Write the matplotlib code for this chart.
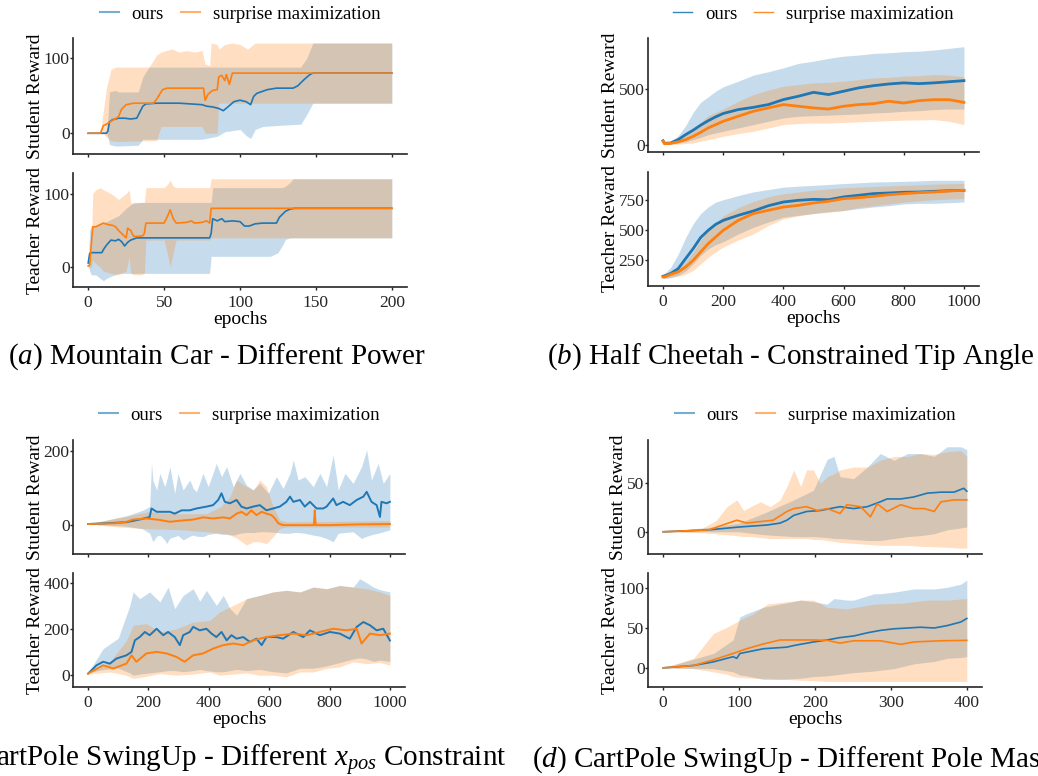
import matplotlib
matplotlib.use('Agg')
import matplotlib.pyplot as plt
from matplotlib.lines import Line2D

FIG_W, FIG_H = 1038, 776
BLUE = '#1f77b4'
ORANGE = '#ff7f0e'
SERIF = 'Liberation Serif'

plt.rcParams['font.family'] = [SERIF, 'DejaVu Serif']
plt.rcParams['mathtext.fontset'] = 'custom'
plt.rcParams['mathtext.rm'] = SERIF
plt.rcParams['mathtext.it'] = SERIF + ':italic'

LABELS = ['ours', 'surprise maximization']

# ---------------- (a) Mountain Car - Different Power ----------------
# student reward
a_s_ours_x = [0, 12, 13, 14, 16, 20, 24, 28, 32, 34, 36, 38, 45, 60, 75, 78, 82, 86, 89, 92,
              96, 100, 104, 107, 109, 111, 118, 124, 135, 138, 140, 142, 146, 148, 200]
a_s_ours = [0, 0, 3, 15, 18, 20, 20, 19, 20, 28, 36, 39, 40, 40, 38, 36, 35, 33, 30, 35,
            42, 44, 42, 38, 49, 53, 58, 60, 60, 63, 67, 71, 78, 80, 80]
a_s_ours_bx = [0, 12, 13, 14, 18, 20, 33, 36, 40, 45, 60, 75, 80, 85, 90, 100, 104, 107, 110,
               115, 130, 140, 144, 148, 150, 200]
a_s_ours_lo = [0, 0, -5, -15, -17, -17, -16, -8, -8, -8, -8, -8, -6, -4, 2, 5, -3, -7, 5,
               9, 11, 12, 25, 40, 40, 40]
a_s_ours_hi = [0, 0, 20, 55, 57, 55, 55, 75, 88, 88, 88, 88, 88, 88, 88, 88, 88, 88, 88,
               88, 88, 88, 100, 120, 120, 120]
a_s_surp_x = [0, 8, 10, 12, 16, 20, 22, 25, 30, 43, 45, 49, 52, 76, 77, 79, 82, 85, 86, 88,
              90, 91, 93, 95, 200]
a_s_surp = [0, 0, 10, 12, 17, 22, 32, 38, 40, 40, 45, 58, 60, 60, 44, 52, 57, 58, 75, 77,
            70, 78, 65, 80, 80]
a_s_surp_bx = [0, 8, 10, 12, 15, 18, 40, 44, 45, 48, 55, 60, 65, 70, 75, 77, 80, 81, 85, 86,
               90, 95, 100, 105, 110, 120, 200]
a_s_surp_lo = [0, 0, 0, -5, -10, -11, -10, -10, -10, 9, 9, 9, 9, 9, 9, 0, 0, 0, 0, 40,
               40, 40, 40, 40, 40, 40, 40]
a_s_surp_hi = [0, 0, 30, 60, 85, 88, 88, 100, 104, 108, 112, 108, 110, 108, 110, 92, 90, 120,
               118, 112, 118, 120, 118, 112, 120, 120, 120]
# teacher reward
a_t_ours_x = [0, 1, 2, 8, 9, 10, 12, 15, 18, 20, 22, 24, 26, 28, 32, 50, 80, 81, 82, 85, 88,
              90, 95, 100, 103, 106, 110, 115, 124, 126, 128, 130, 133, 136, 200]
a_t_ours = [6, 19, 20, 20, 20, 24, 30, 37, 36, 38, 35, 29, 34, 37, 40, 40, 40, 46, 66, 63, 66,
            62, 63, 62, 56, 56, 59, 60, 60, 68, 72, 76, 79, 80, 80]
a_t_ours_bx = [0, 1, 2, 5, 8, 10, 12, 15, 18, 20, 25, 30, 40, 50, 60, 70, 80, 81, 82, 90, 100,
               110, 120, 125, 128, 130, 133, 135, 200]
a_t_ours_lo = [3, -5, -10, -10, -15, -18, -15, -12, -10, -8, -8, -8, -8, -8, -8, -8, -8, 15,
               15, 15, 15, 15, 15, 20, 30, 38, 40, 40, 40]
a_t_ours_hi = [5, 50, 55, 55, 58, 60, 62, 65, 68, 70, 80, 88, 88, 88, 88, 88, 88, 88, 108,
               108, 108, 108, 108, 108, 108, 110, 115, 120, 120]
a_t_surp_x = [0, 1, 2, 3, 5, 8, 10, 13, 16, 18, 20, 22, 24, 25, 26, 28, 30, 33, 36, 37, 38, 50,
              52, 54, 56, 58, 65, 68, 70, 75, 78, 80, 81, 200]
a_t_surp = [2, 3, 30, 55, 55, 58, 60, 58, 57, 55, 50, 46, 42, 40, 53, 50, 42, 42, 43, 46, 60,
            60, 68, 78, 66, 60, 61, 63, 60, 61, 63, 60, 80, 80]
a_t_surp_bx = [0, 2, 3, 5, 8, 10, 15, 20, 25, 27, 28, 30, 35, 37, 38, 40, 50, 52, 54, 56, 58,
               60, 70, 80, 81, 82, 200]
a_t_surp_lo = [0, 0, 10, 5, 0, -5, -8, -10, -5, 15, -8, -10, -10, -8, 37, 37, 37, 20, 0, 20,
               37, 37, 37, 37, 40, 40, 40]
a_t_surp_hi = [5, 20, 100, 105, 108, 105, 100, 92, 100, 105, 88, 86, 88, 88, 108, 108, 108,
               112, 118, 110, 108, 108, 108, 108, 120, 120, 120]

# ---------------- (b) Half Cheetah - Constrained Tip Angle ----------------
b_x = [0, 5, 25, 50, 75, 100, 125, 150, 175, 200, 250, 300, 350, 400, 450, 500, 550, 600,
       650, 700, 750, 800, 850, 900, 950, 1000]
b_s_ours = [35, 12, 15, 45, 90, 130, 175, 215, 250, 280, 315, 335, 360, 405, 435, 470, 450,
            480, 510, 530, 545, 555, 548, 555, 565, 575]
b_s_ours_lo = [30, 5, 5, 15, 25, 45, 65, 90, 105, 120, 150, 180, 210, 240, 255, 260, 265, 270,
               275, 285, 290, 300, 305, 315, 320, 320]
b_s_ours_hi = [40, 20, 30, 80, 170, 290, 380, 430, 480, 520, 570, 625, 655, 690, 730, 750, 775,
               795, 805, 820, 825, 835, 840, 850, 865, 880]
b_s_surp = [30, 8, 12, 25, 45, 75, 110, 150, 180, 210, 255, 300, 330, 360, 345, 330, 320, 345,
            360, 368, 390, 374, 395, 404, 404, 380]
b_s_surp_lo = [25, 3, 0, 5, 10, 15, 30, 45, 60, 75, 100, 120, 150, 180, 190, 195, 195, 200,
               205, 210, 215, 220, 222, 225, 210, 180]
b_s_surp_hi = [40, 15, 25, 50, 90, 140, 200, 260, 290, 320, 390, 450, 490, 525, 540, 555, 560,
               570, 585, 600, 605, 615, 620, 630, 625, 610]
b_t_ours = [117, 120, 140, 180, 264, 347, 440, 500, 550, 583, 625, 661, 705, 736, 750, 758,
            755, 778, 792, 806, 811, 817, 819, 825, 830, 833]
b_t_ours_lo = [100, 100, 105, 125, 160, 220, 290, 345, 380, 405, 470, 525, 570, 610, 625, 640,
               655, 665, 680, 695, 705, 720, 725, 725, 730, 736]
b_t_ours_hi = [135, 140, 190, 300, 440, 555, 640, 695, 735, 755, 790, 820, 840, 860, 868, 875,
               882, 890, 896, 903, 905, 908, 912, 917, 917, 917]
b_t_surp = [111, 112, 133, 153, 194, 250, 319, 389, 444, 500, 583, 639, 667, 694, 708, 728,
            742, 764, 772, 783, 797, 806, 814, 819, 828, 833]
b_t_surp_lo = [100, 100, 108, 118, 135, 165, 220, 275, 320, 360, 420, 470, 540, 595, 620, 640,
               650, 665, 690, 705, 720, 735, 745, 755, 760, 765]
b_t_surp_hi = [125, 125, 150, 180, 240, 320, 420, 500, 560, 620, 690, 740, 780, 805, 820, 835,
               845, 855, 860, 865, 870, 875, 880, 885, 888, 890]

# ---------------- (c) CartPole SwingUp - Different x_pos Constraint ----------------
c_s_ours_x = [0, 60, 127, 170, 204, 210, 227, 271, 287, 310, 337, 359, 392, 414, 431, 442,
              453, 470, 492, 508, 525, 547, 569, 591, 613, 635, 657, 669, 680, 702, 718, 735,
              757, 779, 790, 812, 823, 845, 867, 890, 912, 923, 939, 956, 967, 972, 989, 1000]
c_s_ours = [3, 5, 8, 15, 22, 45, 36, 36, 31, 40, 40, 45, 50, 54, 68, 86, 63, 59, 68, 50, 45,
            50, 54, 40, 45, 50, 63, 77, 63, 68, 50, 63, 45, 45, 50, 72, 54, 63, 54, 68, 77, 90,
            63, 54, 22, 63, 59, 63]
c_s_ours_bx = [0, 127, 180, 204, 210, 215, 227, 238, 254, 260, 271, 287, 298, 315, 337, 348,
               359, 381, 398, 425, 442, 459, 481, 503, 525, 547, 569, 597, 624, 646, 669, 680,
               696, 718, 746, 768, 790, 812, 829, 851, 878, 906, 923, 939, 961, 978, 1000]
c_s_ours_lo = [3, -3, -10, -22, -35, -45, -30, -27, -40, -50, -35, -31, -28, -40, -30, -27,
               -30, -31, -25, -22, -25, -24, -27, -22, -20, -20, -18, -18, -20, -22, -22, -20,
               -20, -22, -27, -30, -36, -45, -22, -20, -18, -36, -30, -26, -22, -18, -13]
c_s_ours_hi = [3, 25, 40, 50, 167, 120, 95, 140, 104, 120, 158, 86, 140, 95, 122, 100, 90,
               140, 104, 167, 131, 158, 104, 140, 108, 95, 113, 86, 131, 99, 140, 176, 122,
               131, 104, 140, 104, 189, 95, 140, 113, 158, 203, 122, 167, 113, 140]
c_s_surp_x = [0, 90, 127, 149, 193, 238, 271, 304, 348, 381, 414, 448, 470, 492, 508, 525,
              541, 558, 575, 591, 608, 619, 630, 646, 700, 748, 751, 754, 800, 900, 1000]
c_s_surp = [3, 5, 9, 15, 18, 14, 9, 12, 15, 21, 18, 21, 18, 31, 36, 27, 40, 27, 36, 31, 27,
            18, 5, 0, 0, 0, 40, 0, 0, 2, 3]
c_s_surp_bx = [0, 100, 200, 300, 392, 440, 470, 492, 525, 547, 569, 591, 613, 635, 657, 800,
               1000]
c_s_surp_lo = [3, -5, -10, -12, -18, -22, -27, -35, -54, -45, -45, -50, -31, -9, -5, -5, -5]
c_s_surp_hi = [3, 20, 36, 31, 31, 50, 77, 122, 104, 95, 122, 104, 50, 14, 9, 10, 12]

c_t_ours_x = [0, 28, 50, 72, 94, 127, 144, 155, 171, 188, 204, 227, 249, 265, 287, 304, 315,
              337, 348, 370, 392, 409, 425, 442, 459, 475, 492, 514, 536, 558, 575, 591, 624,
              646, 680, 713, 735, 768, 801, 834, 867, 890, 912, 934, 956, 978, 1000]
c_t_ours = [7, 43, 58, 50, 72, 86, 101, 151, 165, 187, 173, 201, 173, 187, 165, 130, 173, 187,
            209, 194, 201, 180, 165, 187, 151, 173, 158, 165, 144, 158, 130, 165, 165, 158,
            187, 165, 194, 173, 187, 180, 158, 209, 230, 216, 194, 201, 150]
c_t_ours_bx = [0, 50, 100, 138, 149, 171, 204, 238, 265, 287, 315, 348, 370, 392, 425, 448,
               470, 492, 525, 569, 613, 657, 702, 746, 790, 834, 878, 900, 923, 945, 967, 1000]
c_t_ours_lo = [10, 25, 30, 10, 0, 5, 10, 15, 20, 20, 15, 20, 25, 20, 15, 15, 20, 25, 20, 25,
               15, 10, 30, 30, 40, 55, 70, 75, 70, 60, 65, 60]
c_t_ours_hi = [10, 115, 160, 300, 360, 331, 360, 317, 381, 288, 345, 374, 320, 367, 302, 345,
               288, 259, 331, 345, 360, 367, 360, 381, 374, 388, 381, 417, 400, 381, 370, 360]
c_t_surp_x = [0, 50, 83, 127, 144, 160, 193, 227, 260, 293, 320, 348, 381, 414, 448, 481, 514,
              547, 591, 635, 680, 724, 768, 812, 856, 890, 906, 934, 967, 1000]
c_t_surp = [7, 43, 29, 50, 86, 58, 94, 101, 94, 79, 58, 86, 94, 115, 130, 137, 130, 151, 165,
            173, 180, 173, 187, 201, 194, 201, 137, 180, 173, 180]
c_t_surp_bx = [0, 72, 127, 149, 193, 238, 293, 348, 403, 436, 481, 525, 569, 613, 657, 702,
               746, 790, 834, 878, 923, 967, 1000]
c_t_surp_lo = [5, 14, 0, -14, -5, 7, 0, 5, 14, 0, 5, 10, 0, 0, -7, 14, 14, 29, 36, 58, 50, 55,
               43]
c_t_surp_hi = [5, 58, 150, 216, 223, 187, 201, 230, 237, 273, 302, 331, 345, 360, 367, 360,
               381, 374, 388, 381, 374, 360, 345]

# ---------------- (d) CartPole SwingUp - Different Pole Mass ----------------
d_s_ours_x = [0, 60, 101, 137, 154, 163, 172, 189, 207, 233, 251, 269, 286, 295, 313, 330,
              348, 366, 383, 396, 400]
d_s_ours = [0, 2, 5, 7, 9, 12, 17, 21, 22, 26, 24, 26, 31, 34, 34, 36, 40, 41, 41, 45, 42]
d_s_surp_x = [0, 60, 97, 110, 145, 163, 172, 189, 203, 216, 233, 242, 260, 273, 282, 295, 313,
              330, 344, 357, 366, 383, 400]
d_s_surp = [0, 2, 12, 9, 12, 21, 24, 26, 22, 24, 19, 28, 26, 15.5, 29, 21, 28, 24, 24, 21, 31,
            33, 33]
d_s_ours_bx = [0, 66, 100, 132, 172, 198, 216, 225, 233, 251, 269, 286, 304, 322, 339, 357,
               374, 392, 400]
d_s_ours_lo = [0, 0, 0, -3, -5, -5, -6, -7, -7, -8, -9, -9, -7, -5, -4, -2, 2, 4, 5]
d_s_ours_hi = [0, 5, 9, 19, 33, 43, 75, 78, 57, 55, 67, 81, 74, 81, 81, 78, 88, 88, 85]
d_s_surp_bx = [0, 50, 70, 84, 97, 106, 115, 128, 141, 154, 163, 172, 181, 189, 198, 207, 216,
               225, 233, 251, 269, 286, 304, 322, 339, 357, 374, 392, 400]
d_s_surp_lo = [0, -1, -2, -3, -4, -5, -5, -6, -7, -7, -7, -7, -7, -7, -8, -8, -9, -10, -11,
               -12, -13, -14, -14, -14, -15, -15.5, -16, -17, -17]
d_s_surp_hi = [0, 3, 12, 26, 33, 22, 26, 31, 26, 33, 47, 64, 47, 64, 64, 50, 57, 60, 64, 67,
               67, 74, 78, 78, 81, 80, 83, 84, 78]

d_t_ours_x = [0, 40, 66, 92, 97, 101, 132, 163, 172, 198, 216, 233, 251, 269, 286, 304, 322,
              339, 357, 374, 392, 400]
d_t_ours = [0, 3, 7.5, 14, 12, 18, 24, 26, 28, 32.5, 35, 38, 40, 44, 47, 49, 50, 51, 50, 53,
            57.5, 62]
d_t_surp_x = [0, 40, 66, 92, 110, 132, 154, 172, 198, 216, 233, 251, 286, 313, 330, 366, 400]
d_t_surp = [0, 3, 10, 18, 24, 30, 35, 35, 35, 34.5, 31, 34, 34, 29.5, 32.5, 34, 34.5]
d_t_ours_bx = [0, 66, 92, 101, 110, 132, 154, 181, 198, 216, 225, 242, 251, 278, 286, 304, 330,
               357, 374, 392, 400]
d_t_ours_lo = [0, -1, -5, -9, -10, -14.5, -14.5, -13, -11, -10, -9, -7, -6, -4, -3, -1, 5, 8,
               12, 13, 14]
d_t_ours_hi = [0, 18, 35, 64, 68, 76, 80, 85, 83, 80, 87, 85, 85, 93, 93, 95, 99, 99, 101,
               105, 110]
d_t_surp_bx = [0, 40, 66, 84, 92, 101, 119, 137, 154, 181, 198, 216, 242, 278, 313, 348, 374,
               400]
d_t_surp_lo = [0, -1, -5, -8, -11, -12, -13, -13, -14, -15.5, -16, -17, -17, -17, -17, -17,
               -17, -17]
d_t_surp_hi = [0, 12, 43, 51, 55, 60, 68, 80, 82, 85, 85, 76, 74, 80, 81, 85, 85, 87]


def px_rect(left, top, right, bottom):
    """Convert a pixel box (origin top-left) to a figure-fraction rectangle."""
    return [left / FIG_W, 1 - bottom / FIG_H, (right - left) / FIG_W, (bottom - top) / FIG_H]


def style_axes(ax, ylim, yticks, xlim, xticks, ylabel, show_xlabels):
    for side in ('top', 'right'):
        ax.spines[side].set_visible(False)
    for side in ('left', 'bottom'):
        ax.spines[side].set_color('0.15')
        ax.spines[side].set_linewidth(1.2)
    ax.set_xlim(*xlim)
    ax.set_ylim(*ylim)
    ax.set_xticks(xticks)
    ax.set_yticks(yticks)
    ax.tick_params(axis='both', colors='0.15', labelsize=12.5, width=1)
    ax.tick_params(axis='y', length=2, pad=0.5)
    ax.tick_params(axis='x', length=2.5, pad=3)
    if not show_xlabels:
        ax.tick_params(axis='x', labelbottom=False)
    else:
        ax.set_xlabel('epochs', fontsize=14, labelpad=0)
    ax.set_ylabel(ylabel, fontsize=14, labelpad=0)


def draw_run(ax, band_x, low, high, mean_x, mean, color, lw):
    ax.fill_between(band_x, low, high, color=color, alpha=0.25, linewidth=0)
    ax.plot(mean_x, mean, color=color, lw=lw)


def draw_panel(top_box, bot_box, xlim, xticks, top, bottom, ylims, yticks, legend_y,
               legend_style, lw):
    ax_s = plt.gcf().add_axes(px_rect(*top_box))
    ax_t = plt.gcf().add_axes(px_rect(*bot_box))
    for ax, runs in ((ax_s, top), (ax_t, bottom)):
        (ob, olo, ohi, ox, om), (sb, slo, shi, sx, sm) = runs
        draw_run(ax, ob, olo, ohi, ox, om, BLUE, lw)
        draw_run(ax, sb, slo, shi, sx, sm, ORANGE, lw)
    style_axes(ax_s, ylims[0], yticks[0], xlim, xticks, 'Student Reward', False)
    style_axes(ax_t, ylims[1], yticks[1], xlim, xticks, 'Teacher Reward', True)
    handle_lw, handle_alpha = legend_style
    handles = [Line2D([], [], color=BLUE, lw=handle_lw, alpha=handle_alpha),
               Line2D([], [], color=ORANGE, lw=handle_lw, alpha=handle_alpha)]
    cx = (top_box[0] + top_box[2]) / 2
    plt.gcf().legend(handles, LABELS, loc='center', ncol=2, frameon=False, fontsize=13.5,
                     bbox_to_anchor=(cx / FIG_W, 1 - legend_y / FIG_H), handlelength=1.0,
                     handletextpad=0.7, columnspacing=0.9, borderaxespad=0)


def main():
    fig = plt.figure(figsize=(FIG_W / 100, FIG_H / 100), dpi=100)

    draw_panel((73, 38, 407, 154), (73, 173, 407, 287), (-10, 210), [0, 50, 100, 150, 200],
               ((a_s_ours_bx, a_s_ours_lo, a_s_ours_hi, a_s_ours_x, a_s_ours),
                (a_s_surp_bx, a_s_surp_lo, a_s_surp_hi, a_s_surp_x, a_s_surp)),
               ((a_t_ours_bx, a_t_ours_lo, a_t_ours_hi, a_t_ours_x, a_t_ours),
                (a_t_surp_bx, a_t_surp_lo, a_t_surp_hi, a_t_surp_x, a_t_surp)),
               ((-27.6, 126.7), (-26.5, 127.8)), ([0, 100], [0, 100]), 14, (1.5, 0.6), 1.2)

    draw_panel((648, 38, 979, 152), (648, 172, 979, 286), (-50, 1050),
               [0, 200, 400, 600, 800, 1000],
               ((b_x, b_s_ours_lo, b_s_ours_hi, b_x, b_s_ours),
                (b_x, b_s_surp_lo, b_s_surp_hi, b_x, b_s_surp)),
               ((b_x, b_t_ours_lo, b_t_ours_hi, b_x, b_t_ours),
                (b_x, b_t_surp_lo, b_t_surp_hi, b_x, b_t_surp)),
               ((-66, 958), (36, 986)), ([0, 500], [250, 500, 750]), 14, (1.0, 0.9), 2.0)

    draw_panel((73, 440, 405, 554), (73, 573, 405, 687), (-50, 1050),
               [0, 200, 400, 600, 800, 1000],
               ((c_s_ours_bx, c_s_ours_lo, c_s_ours_hi, c_s_ours_x, c_s_ours),
                (c_s_surp_bx, c_s_surp_lo, c_s_surp_hi, c_s_surp_x, c_s_surp)),
               ((c_t_ours_bx, c_t_ours_lo, c_t_ours_hi, c_t_ours_x, c_t_ours),
                (c_t_surp_bx, c_t_surp_lo, c_t_surp_hi, c_t_surp_x, c_t_surp)),
               ((-78, 230), (-51, 442)), ([0, 200], [0, 200, 400]), 415, (1.5, 0.6), 1.4)

    draw_panel((648, 440, 982, 554), (648, 573, 982, 687), (-20, 420),
               [0, 100, 200, 300, 400],
               ((d_s_ours_bx, d_s_ours_lo, d_s_ours_hi, d_s_ours_x, d_s_ours),
                (d_s_surp_bx, d_s_surp_lo, d_s_surp_hi, d_s_surp_x, d_s_surp)),
               ((d_t_ours_bx, d_t_ours_lo, d_t_ours_hi, d_t_ours_x, d_t_ours),
                (d_t_surp_bx, d_t_surp_lo, d_t_surp_hi, d_t_surp_x, d_t_surp)),
               ((-23, 95), (-24, 119)), ([0, 50], [0, 50, 100]), 415, (1.5, 0.6), 1.2)

    captions = [
        (217, 357, r'($\mathit{a}$) Mountain Car - Different Power'),
        (791, 357, r'($\mathit{b}$) Half Cheetah - Constrained Tip Angle'),
        (222, 760, r'($\mathit{c}$) CartPole SwingUp - Different $x_{pos}$ Constraint'),
        (792, 760, r'($\mathit{d}$) CartPole SwingUp - Different Pole Mass'),
    ]
    for cx, cy, text in captions:
        fig.text(cx / FIG_W, 1 - cy / FIG_H, text, ha='center', va='center', fontsize=21,
                 family=SERIF)

    fig.savefig('out.png', dpi=100)


if __name__ == '__main__':
    main()
